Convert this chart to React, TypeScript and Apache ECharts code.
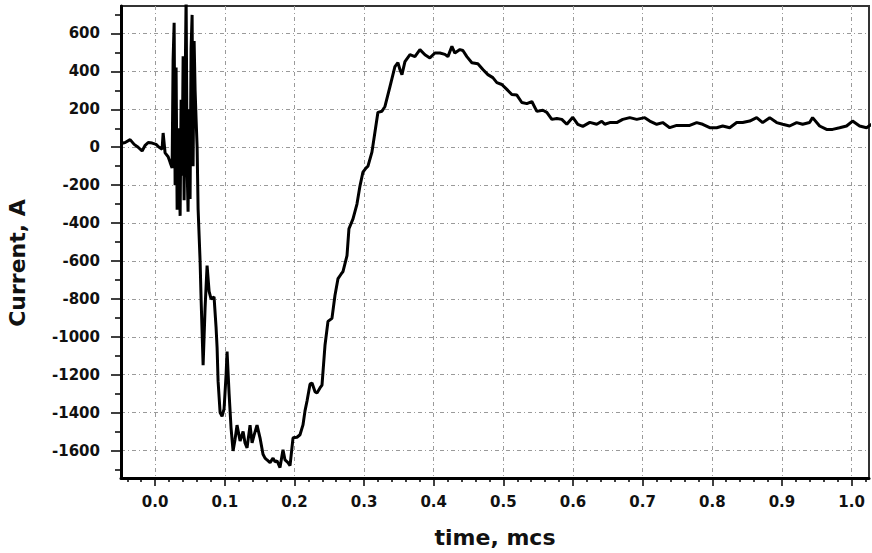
import React, { useEffect, useRef } from "react";
import * as echarts from "echarts";

// time, mcs
const timeMcs = [
  -0.0488, -0.043, -0.0359, -0.0301, -0.0244, -0.0187, -0.0143, -0.01, -0.0043, 0.0014,
  0.0057, 0.01, 0.0115, 0.0143, 0.0187, 0.0215, 0.0244, 0.0258, 0.0273, 0.0287,
  0.0301, 0.0316, 0.033, 0.0359, 0.0373, 0.0387, 0.0402, 0.0416, 0.043, 0.0445,
  0.0459, 0.0473, 0.0488, 0.0502, 0.0516, 0.0531, 0.0545, 0.056, 0.0574, 0.0588,
  0.0603, 0.0617, 0.0646, 0.066, 0.0689, 0.0717, 0.0746, 0.0775, 0.0803, 0.0846,
  0.0875, 0.089, 0.0904, 0.0933, 0.0961, 0.099, 0.1019, 0.1033, 0.1062, 0.109,
  0.1119, 0.1148, 0.1176, 0.122, 0.1263, 0.1291, 0.132, 0.1363, 0.1392, 0.142,
  0.1463, 0.1506, 0.1549, 0.1578, 0.1607, 0.165, 0.1693, 0.1722, 0.175, 0.1793,
  0.1836, 0.1865, 0.1908, 0.1937, 0.198, 0.2037, 0.208, 0.2123, 0.2152, 0.2181,
  0.2224, 0.2253, 0.2296, 0.2324, 0.2367, 0.2396, 0.2439, 0.2482, 0.2539, 0.2582,
  0.2626, 0.2669, 0.2697, 0.2755, 0.2783, 0.2841, 0.2898, 0.2941, 0.2984, 0.3027,
  0.3056, 0.3113, 0.3156, 0.3199, 0.3257, 0.33, 0.3372, 0.3443, 0.3486, 0.3515,
  0.3544, 0.3587, 0.3659, 0.373, 0.3802, 0.3874, 0.3945, 0.4017, 0.4089, 0.4161,
  0.4204, 0.4261, 0.4304, 0.4376, 0.4419, 0.4476, 0.4548, 0.4634, 0.4706, 0.4778,
  0.4849, 0.4907, 0.4978, 0.505, 0.5122, 0.5194, 0.5265, 0.5337, 0.5409, 0.5481,
  0.5567, 0.5624, 0.5696, 0.5768, 0.5839, 0.5911, 0.5997, 0.6069, 0.6141, 0.6241,
  0.6341, 0.6413, 0.6456, 0.6528, 0.6628, 0.6714, 0.6815, 0.6915, 0.703, 0.7102,
  0.7202, 0.7288, 0.7389, 0.7489, 0.7575, 0.7676, 0.7776, 0.7862, 0.7963, 0.8063,
  0.8149, 0.825, 0.835, 0.8436, 0.8537, 0.8637, 0.8723, 0.8824, 0.8924, 0.901,
  0.911, 0.9211, 0.9297, 0.9397, 0.944, 0.9541, 0.9641, 0.9727, 0.9828, 0.9928,
  1.0014, 1.0115, 1.0215, 1.0287,
];

// Current, A
const currentA = [
  20, 25, 40, 15, 0, -20, 10, 25, 22, 15,
  0, -10, 75, -30, -50, -80, -110, 460, 656, -200,
  420, -330, 100, -362, 250, -150, 480, -280, 300, 800,
  -100, -340, 200, -273, 520, 698, -100, 560, 300, 150,
  0, -325, -604, -800, -1150, -850, -624, -760, -800, -790,
  -950, -1060, -1234, -1400, -1420, -1380, -1200, -1078, -1300, -1480,
  -1602, -1540, -1466, -1550, -1500, -1560, -1586, -1466, -1560, -1520,
  -1466, -1533, -1620, -1640, -1650, -1664, -1640, -1660, -1654, -1690,
  -1596, -1650, -1664, -1680, -1533, -1530, -1517, -1465, -1391, -1339,
  -1250, -1244, -1290, -1297, -1270, -1255, -1045, -919, -903, -782,
  -693, -670, -656, -572, -430, -378, -300, -205, -131, -110,
  -100, -26, 79, 184, 190, 215, 320, 425, 446, 410,
  383, 452, 488, 478, 515, 488, 471, 497, 497, 490,
  478, 532, 497, 515, 510, 478, 446, 440, 410, 383,
  367, 341, 331, 305, 278, 275, 236, 230, 241, 189,
  195, 184, 147, 152, 147, 121, 158, 121, 110, 131,
  121, 137, 121, 130, 130, 147, 156, 147, 156, 138,
  121, 130, 103, 115, 115, 115, 130, 121, 103, 103,
  112, 103, 130, 130, 138, 156, 130, 156, 130, 121,
  112, 130, 121, 130, 156, 112, 94, 94, 103, 112,
  138, 112, 103, 121,
];

const xMajorTicks = [0, 0.1, 0.2, 0.3, 0.4, 0.5, 0.6, 0.7, 0.8, 0.9, 1.0];
const xMinorTicks = [
  -0.04, -0.02, 0.02, 0.04, 0.06, 0.08, 0.12, 0.14, 0.16, 0.18,
  0.22, 0.24, 0.26, 0.28, 0.32, 0.34, 0.36, 0.38, 0.42, 0.44,
  0.46, 0.48, 0.52, 0.54, 0.56, 0.58, 0.62, 0.64, 0.66, 0.68,
  0.72, 0.74, 0.76, 0.78, 0.82, 0.84, 0.86, 0.88, 0.92, 0.94,
  0.96, 0.98, 1.02,
];
const yMajorTicks = [-1600, -1400, -1200, -1000, -800, -600, -400, -200, 0, 200, 400, 600];
const yMinorTicks = [-1700, -1500, -1300, -1100, -900, -700, -500, -300, -100, 100, 300, 500, 700];

const xTitle = "time, mcs";
const yTitle = "Current, A";

const FONT = '"DejaVu Sans", sans-serif';

export default function App() {
  const ref = useRef<HTMLDivElement>(null);

  useEffect(() => {
    document.body.style.margin = "0";
    const chart = echarts.init(ref.current as HTMLDivElement, null, { renderer: "svg" });
    const seriesData = timeMcs.map((t, i) => [t, currentA[i]]);
    const gridLine = {
      show: true,
      lineStyle: { color: "#9a9a9a", width: 1, type: [4, 3, 1, 3] },
    };
    const labelStyle = {
      fontFamily: FONT,
      fontWeight: "bold",
      fontSize: 15,
      color: "#111",
    };
    const X_MIN = -0.049;
    const X_MAX = 1.025;
    const Y_MIN = -1745;
    const Y_MAX = 745;

    chart.setOption({
      animation: false,
      backgroundColor: "#ffffff",
      grid: {
        left: 121,
        right: 3,
        top: 6,
        bottom: 73,
        show: true,
        borderColor: "#333",
        borderWidth: 2,
        backgroundColor: "transparent",
      },
      xAxis: [
        {
          type: "value",
          min: X_MIN,
          max: X_MAX,
          splitNumber: 10,
          position: "bottom",
          axisLine: { show: true, onZero: false, lineStyle: { color: "#000", width: 3 } },
          axisTick: {
            show: true,
            customValues: xMajorTicks,
            length: 8,
            lineStyle: { color: "#000", width: 1.5 },
          },
          axisLabel: {
            customValues: xMajorTicks,
            formatter: (v: number) => v.toFixed(1),
            margin: 16,
            ...labelStyle,
          },
          splitLine: gridLine,
          name: xTitle,
          nameLocation: "middle",
          nameGap: 48,
          nameTextStyle: { fontFamily: FONT, fontWeight: "bold", fontSize: 22, color: "#111" },
        },
        {
          type: "value",
          min: X_MIN,
          max: X_MAX,
          position: "bottom",
          axisLine: { show: false, onZero: false },
          axisTick: {
            show: true,
            customValues: xMinorTicks,
            length: 4,
            lineStyle: { color: "#000", width: 1.5 },
          },
          axisLabel: { show: false },
          splitLine: { show: false },
        },
      ],
      yAxis: [
        {
          type: "value",
          min: Y_MIN,
          max: Y_MAX,
          splitNumber: 12,
          position: "left",
          axisLine: { show: true, onZero: false, lineStyle: { color: "#000", width: 3 } },
          axisTick: {
            show: true,
            customValues: yMajorTicks,
            length: 10,
            lineStyle: { color: "#000", width: 1.5 },
          },
          axisLabel: {
            customValues: yMajorTicks,
            formatter: (v: number) => String(Math.round(v)),
            margin: 21,
            ...labelStyle,
          },
          splitLine: gridLine,
        },
        {
          type: "value",
          min: Y_MIN,
          max: Y_MAX,
          position: "left",
          axisLine: { show: false, onZero: false },
          axisTick: {
            show: true,
            customValues: yMinorTicks,
            length: 6,
            lineStyle: { color: "#000", width: 1.5 },
          },
          axisLabel: { show: false },
          splitLine: { show: false },
        },
      ],
      graphic: [
        {
          type: "text",
          x: 17,
          y: 263,
          rotation: Math.PI / 2,
          style: {
            text: yTitle,
            font: 'bold 22px "DejaVu Sans"',
            fontFamily: FONT,
            fontWeight: "bold",
            fontSize: 22,
            fill: "#111",
            align: "center",
            verticalAlign: "middle",
            textAlign: "center",
            textVerticalAlign: "middle",
          },
        },
      ],
      series: [
        {
          type: "line",
          xAxisIndex: 0,
          yAxisIndex: 0,
          data: seriesData,
          showSymbol: false,
          symbol: "none",
          clip: true,
          lineStyle: { color: "#000", width: 3 },
          z: 5,
        },
      ],
    });

    return () => {
      chart.dispose();
    };
  }, []);

  return <div ref={ref} style={{ width: 872, height: 553 }} />;
}
